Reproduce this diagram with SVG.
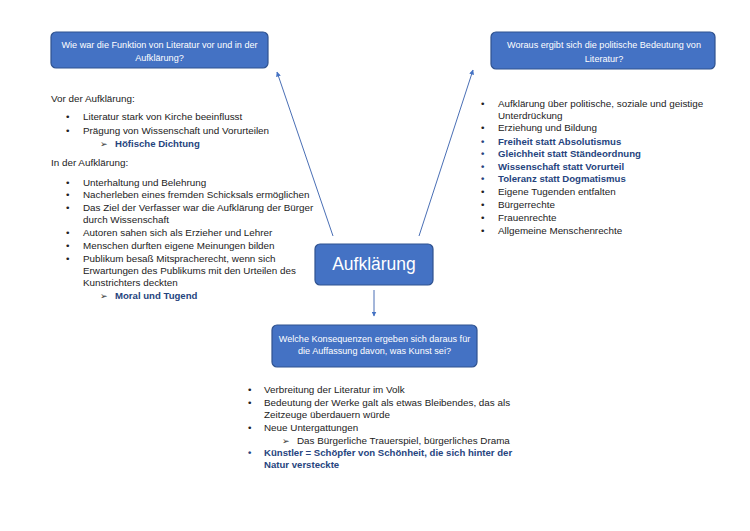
<svg xmlns="http://www.w3.org/2000/svg" width="750" height="531" viewBox="0 0 750 531">
<defs>
<marker id="ah" viewBox="0 0 10 10" refX="9" refY="5" markerWidth="5" markerHeight="5" orient="auto" markerUnits="userSpaceOnUse">
<path d="M0,0 L10,5 L0,10 z" fill="#4472C4"/>
</marker>
<style>
.box{fill:#4472C4;stroke:#2F528F;stroke-width:1.2}
.bt{font-family:"Liberation Sans","Open Sans",sans-serif;font-size:9.1px;fill:#fff;text-anchor:middle}
.t{font-family:"Liberation Sans",Arial,sans-serif;font-size:9.85px;fill:#222}
.b{font-family:"Liberation Sans",Arial,sans-serif;font-size:9.6px;fill:#26447E;font-weight:bold}
.m{font-family:"DejaVu Sans",sans-serif;font-size:9px;fill:#333}
.con{stroke:#4A6FB5;stroke-width:1;fill:none;marker-end:url(#ah)}
</style>
</defs>
<rect width="750" height="531" fill="#fff"/>
<g id="connectors">
<line class="con" x1="333" y1="236" x2="277" y2="72"/>
<line class="con" x1="419" y1="236" x2="473" y2="70"/>
<line class="con" x1="374" y1="290" x2="374" y2="316"/>
</g>
<g id="node-top-left">
<rect class="box" x="51" y="32" width="217" height="36" rx="5"/>
<text class="bt" x="159.5" y="48">Wie war die Funktion von Literatur vor und in der</text>
<text class="bt" x="159.5" y="61">Aufklärung?</text>
</g>
<g id="node-top-right">
<rect class="box" x="491" y="32" width="224" height="37" rx="5"/>
<text class="bt" x="604" y="48">Woraus ergibt sich die politische Bedeutung von</text>
<text class="bt" x="604" y="62">Literatur?</text>
</g>
<g id="node-center">
<rect class="box" x="315" y="244" width="118" height="41" rx="5"/>
<text x="374" y="270" font-family="Liberation Sans,Arial,sans-serif" font-size="17.5" fill="#fff" text-anchor="middle">Aufklärung</text>
</g>
<g id="node-bottom">
<rect class="box" x="272" y="325" width="205" height="42" rx="5"/>
<text class="bt" x="374.5" y="342">Welche Konsequenzen ergeben sich daraus für</text>
<text class="bt" x="374.5" y="354">die Auffassung davon, was Kunst sei?</text>
</g>
<g id="text-left">
<text class="t" x="51" y="102">Vor der Aufklärung:</text>
<text class="t" x="66" y="120">•</text><text class="t" x="83" y="120">Literatur stark von Kirche beeinflusst</text>
<text class="t" x="66" y="134">•</text><text class="t" x="83" y="134">Prägung von Wissenschaft und Vorurteilen</text>
<text class="m" x="100" y="147">➢</text><text class="b" x="115" y="147">Höfische Dichtung</text>
<text class="t" x="51" y="166">In der Aufklärung:</text>
<text class="t" x="66" y="186">•</text><text class="t" x="83" y="186">Unterhaltung und Belehrung</text>
<text class="t" x="66" y="198">•</text><text class="t" x="83" y="198">Nacherleben eines fremden Schicksals ermöglichen</text>
<text class="t" x="66" y="211">•</text><text class="t" x="83" y="211">Das Ziel der Verfasser war die Aufklärung der Bürger</text>
<text class="t" x="83" y="223">durch Wissenschaft</text>
<text class="t" x="66" y="236">•</text><text class="t" x="83" y="236">Autoren sahen sich als Erzieher und Lehrer</text>
<text class="t" x="66" y="249">•</text><text class="t" x="83" y="249">Menschen durften eigene Meinungen bilden</text>
<text class="t" x="66" y="262">•</text><text class="t" x="83" y="262">Publikum besaß Mitspracherecht, wenn sich</text>
<text class="t" x="83" y="274">Erwartungen des Publikums mit den Urteilen des</text>
<text class="t" x="83" y="286">Kunstrichters deckten</text>
<text class="m" x="100" y="299">➢</text><text class="b" x="115" y="299">Moral und Tugend</text>
</g>
<g id="text-right">
<text class="t" x="481" y="107">•</text><text class="t" x="498" y="107">Aufklärung über politische, soziale und geistige</text>
<text class="t" x="498" y="119">Unterdrückung</text>
<text class="t" x="481" y="131">•</text><text class="t" x="498" y="131">Erziehung und Bildung</text>
<text class="b" x="481" y="145">•</text><text class="b" x="498" y="145">Freiheit statt Absolutismus</text>
<text class="b" x="481" y="157">•</text><text class="b" x="498" y="157">Gleichheit statt Ständeordnung</text>
<text class="b" x="481" y="170">•</text><text class="b" x="498" y="170">Wissenschaft statt Vorurteil</text>
<text class="b" x="481" y="182">•</text><text class="b" x="498" y="182">Toleranz statt Dogmatismus</text>
<text class="t" x="481" y="195">•</text><text class="t" x="498" y="195">Eigene Tugenden entfalten</text>
<text class="t" x="481" y="208">•</text><text class="t" x="498" y="208">Bürgerrechte</text>
<text class="t" x="481" y="221">•</text><text class="t" x="498" y="221">Frauenrechte</text>
<text class="t" x="481" y="234">•</text><text class="t" x="498" y="234">Allgemeine Menschenrechte</text>
</g>
<g id="text-bottom">
<text class="t" x="248" y="393">•</text><text class="t" x="264" y="393">Verbreitung der Literatur im Volk</text>
<text class="t" x="248" y="406">•</text><text class="t" x="264" y="406">Bedeutung der Werke galt als etwas Bleibendes, das als</text>
<text class="t" x="264" y="418">Zeitzeuge überdauern würde</text>
<text class="t" x="248" y="431">•</text><text class="t" x="264" y="431">Neue Untergattungen</text>
<text class="m" x="282" y="444">➢</text><text class="t" x="297" y="444">Das Bürgerliche Trauerspiel, bürgerliches Drama</text>
<text class="b" x="248" y="456">•</text><text class="b" x="264" y="456">Künstler = Schöpfer von Schönheit, die sich hinter der</text>
<text class="b" x="264" y="468">Natur versteckte</text>
</g>
</svg>
